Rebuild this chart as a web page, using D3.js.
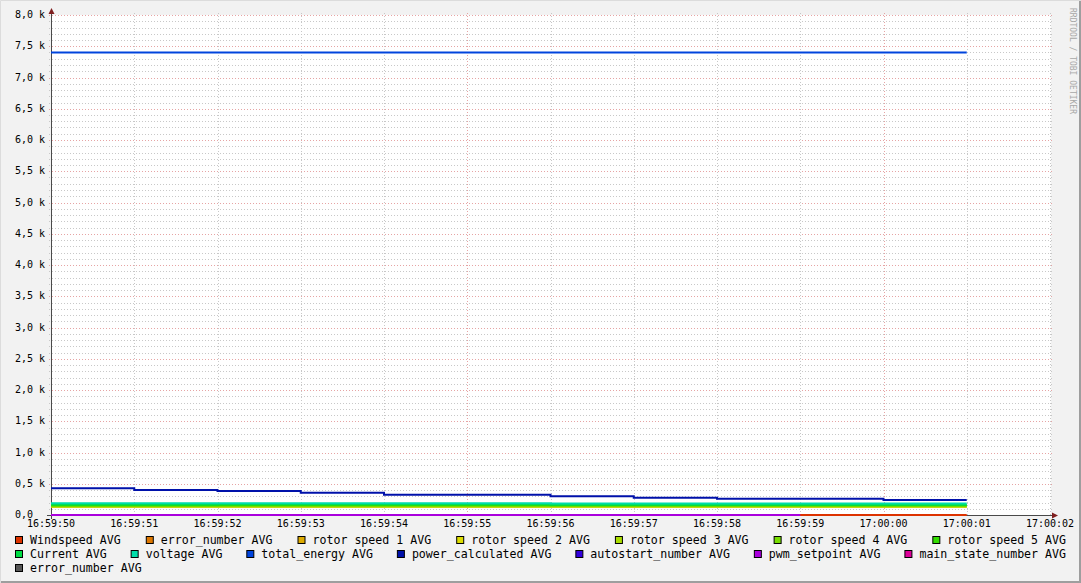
<!DOCTYPE html>
<html>
<head>
<meta charset="utf-8">
<script src="https://cdn.jsdelivr.net/npm/d3@7"></script>
<style>
  body { margin: 0; background: #fff; }
  svg { display: block; }
  text { font-family: "DejaVu Sans Mono", monospace; }
</style>
</head>
<body>
<div id="chart"></div>
<script>
// time axis labels, one per second
var timeLabels = ['16:59:50', '16:59:51', '16:59:52', '16:59:53', '16:59:54', '16:59:55',
  '16:59:56', '16:59:57', '16:59:58', '16:59:59', '17:00:00', '17:00:01', '17:00:02']
var majorTimes = ['16:59:55', '17:00:00']

var yTicks = [0, 500, 1000, 1500, 2000, 2500, 3000, 3500, 4000, 4500, 5000, 5500, 6000, 6500, 7000, 7500, 8000]
var yTickLabels = ['0,0', '0,5 k', '1,0 k', '1,5 k', '2,0 k', '2,5 k', '3,0 k', '3,5 k', '4,0 k',
  '4,5 k', '5,0 k', '5,5 k', '6,0 k', '6,5 k', '7,0 k', '7,5 k', '8,0 k']

// one value per 1s interval, 16:59:50 -> 17:00:01 (null = unknown)
var windspeed        = [0, 0, 0, 0, 0, 0, 0, 0, 0, 0, 0]
var errorNumber      = [null, null, null, null, null, null, null, null, null, null, null]
var rotorSpeed1      = [134, 134, 134, 134, 134, 134, 134, 134, 134, 134, 134]
var rotorSpeed2      = [135, 135, 135, 135, 135, 135, 135, 135, 135, 135, 135]
var rotorSpeed3      = [136, 136, 138, 138, 138, 138, 136, 136, 136, 136, 136]
var rotorSpeed4      = [150, 150, 152, 152, 152, 152, 150, 150, 150, 150, 150]
var rotorSpeed5      = [155, 155, 158, 158, 158, 158, 155, 155, 155, 155, 155]
var current          = [168, 168, 172, 172, 172, 172, 166, 166, 166, 166, 166]
var voltage          = [188, 188, 190, 190, 190, 190, 184, 184, 184, 184, 184]
var totalEnergy      = [7400, 7400, 7400, 7400, 7400, 7400, 7400, 7400, 7400, 7400, 7400]
var powerCalculated  = [430, 400, 385, 357, 325, 325, 299, 277, 261, 261, 240]
var autostartNumber  = [null, null, null, null, null, null, null, null, null, null, null]
var pwmSetpoint      = [0, 0, 0, 0, 0, 0, 0, 0, 0, null, null]
var mainStateNumber  = [null, null, null, null, null, null, null, null, null, null, null]
var errorNumber2     = [null, null, null, null, null, null, null, null, null, null, null]

var seriesNames = ['Windspeed AVG', 'error_number AVG', 'rotor speed 1 AVG', 'rotor speed 2 AVG',
  'rotor speed 3 AVG', 'rotor speed 4 AVG', 'rotor speed 5 AVG', 'Current AVG', 'voltage AVG',
  'total_energy AVG', 'power_calculated AVG', 'autostart_number AVG', 'pwm_setpoint AVG',
  'main_state_number AVG', 'error_number AVG']
var seriesColors = ['#dd3300', '#dd7700', '#ddaa00', '#dddd00', '#aadd00', '#77dd00', '#33dd00',
  '#00dd44', '#00ddaa', '#0044dd', '#0011aa', '#3300dd', '#aa00dd', '#dd0099', '#555555']
var seriesValues = [windspeed, errorNumber, rotorSpeed1, rotorSpeed2, rotorSpeed3, rotorSpeed4,
  rotorSpeed5, current, voltage, totalEnergy, powerCalculated, autostartNumber, pwmSetpoint,
  mainStateNumber, errorNumber2]

var W = 1081, H = 583
var parse = d3.timeParse('%H:%M:%S')
var times = timeLabels.map(parse)

var x = d3.scaleTime().domain([times[0], times[times.length - 1]]).range([51, 1050])
var y = d3.scaleLinear().domain([0, 8000]).range([515, 15])

var svg = d3.select('#chart').append('svg').attr('width', W).attr('height', H)

// background + frame
svg.append('rect').attr('width', W).attr('height', H).attr('fill', '#f2f2f2')
svg.append('path').attr('d', 'M0.5,' + H + 'V0.5H' + W).attr('fill', 'none').attr('stroke', '#dcdcdc')
svg.append('path').attr('d', 'M1,' + (H - 1) + 'H' + (W - 1) + 'V1').attr('fill', 'none')
  .attr('stroke', '#9e9e9e').attr('stroke-width', 2)

// canvas
svg.append('rect').attr('x', 51).attr('y', 15).attr('width', 1000).attr('height', 501).attr('fill', '#fff')

var crisp = function(v) { return Math.round(v) + 0.5 }

// horizontal grid: minor every 100, major every 500
var gridG = svg.append('g').attr('fill', 'none').attr('stroke-dasharray', '1,2')
var minorY = d3.range(0, 8001, 100).filter(function(v) { return yTicks.indexOf(v) < 0 })
gridG.selectAll('line.hmin').data(minorY).join('line')
  .attr('x1', 49).attr('x2', 1053)
  .attr('y1', function(d) { return crisp(y(d)) }).attr('y2', function(d) { return crisp(y(d)) })
  .attr('stroke', '#c8c8c8')
gridG.selectAll('line.vmin').data(times.filter(function(t, i) { return majorTimes.indexOf(timeLabels[i]) < 0 })).join('line')
  .attr('x1', function(d) { return crisp(x(d)) }).attr('x2', function(d) { return crisp(x(d)) })
  .attr('y1', 13).attr('y2', 517)
  .attr('stroke', '#c8c8c8')
gridG.selectAll('line.hmaj').data(yTicks).join('line')
  .attr('x1', 49).attr('x2', 1053)
  .attr('y1', function(d) { return crisp(y(d)) }).attr('y2', function(d) { return crisp(y(d)) })
  .attr('stroke', '#e6a4a4')
gridG.selectAll('line.vmaj').data(majorTimes.map(parse)).join('line')
  .attr('x1', function(d) { return crisp(x(d)) }).attr('x2', function(d) { return crisp(x(d)) })
  .attr('y1', 13).attr('y2', 517)
  .attr('stroke', '#e6a4a4')

// axes
var axisColor = '#4a4a4a', arrowColor = '#7f1f1f'
svg.append('line').attr('x1', 47).attr('x2', 1053).attr('y1', 515.5).attr('y2', 515.5).attr('stroke', axisColor)
svg.append('line').attr('x1', 51.5).attr('x2', 51.5).attr('y1', 13).attr('y2', 519).attr('stroke', axisColor)
svg.append('path').attr('d', 'M48.5,14L54.5,14L51.5,8Z').attr('fill', arrowColor)
svg.append('path').attr('d', 'M1052,512.5L1052,518.5L1058,515.5Z').attr('fill', arrowColor)

// data lines (one step per interval)
svg.append('clipPath').attr('id', 'clip').append('rect')
  .attr('x', 51).attr('y', 15).attr('width', 1000).attr('height', 501)

var line = d3.line()
  .defined(function(d) { return d.v != null })
  .x(function(d) { return x(d.t) })
  .y(function(d) { return y(d.v) })

function stepPoints(vals) {
  var pts = []
  vals.forEach(function(v, i) {
    pts.push({t: times[i], v: v})
    pts.push({t: times[i + 1], v: v})
  })
  return pts
}

svg.append('g').attr('clip-path', 'url(#clip)')
  .selectAll('path').data(seriesValues).join('path')
  .attr('d', function(d) { return line(stepPoints(d)) })
  .attr('fill', 'none')
  .attr('stroke', function(d, i) { return seriesColors[i] })
  .attr('stroke-width', 2)

// y labels
svg.append('g').selectAll('text').data(yTicks).join('text')
  .attr('x', 15).attr('y', function(d) { return y(d) })
  .attr('dy', '0.3em')
  .attr('font-size', '10px')
  .text(function(d, i) { return yTickLabels[i] })

// x labels
svg.append('g').selectAll('text').data(times).join('text')
  .attr('x', function(d) { return x(d) }).attr('y', 527)
  .attr('text-anchor', 'middle')
  .attr('font-size', '10px')
  .text(function(d, i) { return timeLabels[i] })

// watermark
svg.append('text')
  .attr('transform', 'translate(1070,8) rotate(90)')
  .attr('font-size', '8px').attr('fill', '#a8a8a8')
  .text('RRDTOOL / TOBI OETIKER')

// legend, justified rows like rrdtool
var rows = [[0, 1, 2, 3, 4, 5, 6], [7, 8, 9, 10, 11, 12, 13], [14]]
var legG = svg.append('g')
rows.forEach(function(row, r) {
  var baseY = 537 + r * 14
  var items = row.map(function(i) {
    var g = legG.append('g')
    g.append('rect').attr('x', 0.5).attr('y', -0.5).attr('width', 7).attr('height', 7)
      .attr('fill', seriesColors[i]).attr('stroke', '#000')
    var t = g.append('text').attr('x', 15).attr('y', 7).attr('font-size', '11.6px').text(seriesNames[i])
    return {g: g, w: 15 + t.node().getComputedTextLength()}
  })
  var total = d3.sum(items, function(d) { return d.w })
  var gap = items.length > 1 ? (1066 - 15 - total) / (items.length - 1) : 0
  var cx = 15
  items.forEach(function(it) {
    it.g.attr('transform', 'translate(' + cx + ',' + baseY + ')')
    cx += it.w + gap
  })
})
</script>
</body>
</html>
